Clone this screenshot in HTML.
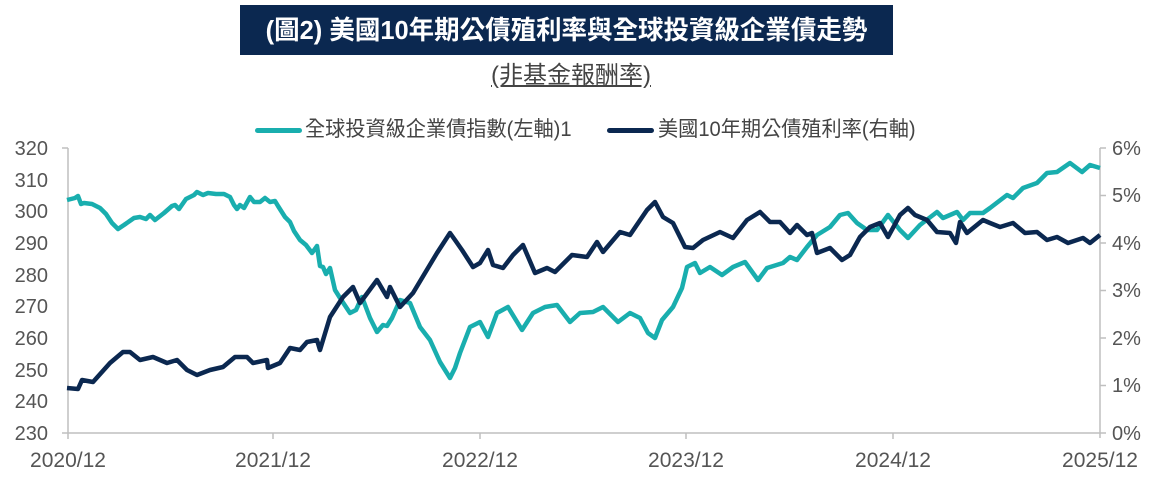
<!DOCTYPE html>
<html><head><meta charset="utf-8"><style>
html,body{margin:0;padding:0;background:#fff;}
body{width:1161px;height:477px;position:relative;overflow:hidden;font-family:"Liberation Sans","Noto Sans CJK TC",sans-serif;}
.title{position:absolute;left:240px;top:5px;width:653px;height:50px;background:#0b2850;color:#fff;}
.title span{position:absolute;left:0;width:653px;top:8px;text-align:center;font-size:26px;font-weight:bold;line-height:34px;transform:scaleX(0.98);}
.sub{position:absolute;left:0;width:1142px;top:61px;text-align:center;}
.sub span{display:inline-block;font-size:24px;color:#444;text-decoration:underline;line-height:30px;}
.leg{position:absolute;top:117px;font-size:21px;color:#444;line-height:26px;white-space:nowrap;transform-origin:left center;transform:scaleX(0.96);}
.ln{position:absolute;top:128px;height:5px;border-radius:3px;}
</style></head><body>
<div class="title"><span>(圖2) 美國10年期公債殖利率與全球投資級企業債走勢</span></div>
<div class="sub"><span>(非基金報酬率)</span></div>
<div class="ln" style="left:255px;width:47px;background:#19aeae"></div>
<div class="leg" style="left:305px">全球投資級企業債指數(左軸)1</div>
<div class="ln" style="left:607px;width:47px;background:#0b2850"></div>
<div class="leg" style="left:658px">美國10年期公債殖利率(右軸)</div>
<svg width="1161" height="477" style="position:absolute;left:0;top:0" font-family="Liberation Sans, sans-serif">
<g stroke="#bfbfbf" stroke-width="1.5" fill="none">
<line x1="68" y1="148" x2="68" y2="433"/>
<line x1="68" y1="433" x2="1100" y2="433"/>
<line x1="1100" y1="148" x2="1100" y2="438"/>
<line x1="273" y1="433" x2="273" y2="439"/><line x1="480" y1="433" x2="480" y2="439"/><line x1="686" y1="433" x2="686" y2="439"/><line x1="893" y1="433" x2="893" y2="439"/><line x1="68" y1="433" x2="68" y2="439"/>
<line x1="62" y1="148" x2="68" y2="148"/><line x1="62" y1="433" x2="68" y2="433"/>
<line x1="1100" y1="148" x2="1106" y2="148"/><line x1="1100" y1="195.5" x2="1106" y2="195.5"/><line x1="1100" y1="243" x2="1106" y2="243"/><line x1="1100" y1="290.5" x2="1106" y2="290.5"/><line x1="1100" y1="338" x2="1106" y2="338"/><line x1="1100" y1="385.5" x2="1106" y2="385.5"/><line x1="1100" y1="433" x2="1106" y2="433"/>
</g>
<g fill="#555" font-size="20" text-anchor="end">
<text x="48" y="155">320</text><text x="48" y="187">310</text><text x="48" y="218">300</text><text x="48" y="250">290</text><text x="48" y="282">280</text><text x="48" y="313">270</text><text x="48" y="345">260</text><text x="48" y="377">250</text><text x="48" y="408">240</text><text x="48" y="440">230</text>
</g>
<g fill="#555" font-size="20" text-anchor="start">
<text x="1112" y="155">6%</text><text x="1112" y="202">5%</text><text x="1112" y="250">4%</text><text x="1112" y="297">3%</text><text x="1112" y="345">2%</text><text x="1112" y="392">1%</text><text x="1112" y="440">0%</text>
</g>
<g fill="#555" font-size="21" text-anchor="middle">
<text x="68" y="467">2020/12</text><text x="273" y="467">2021/12</text><text x="480" y="467">2022/12</text><text x="686" y="467">2023/12</text><text x="893" y="467">2024/12</text><text x="1100" y="467">2025/12</text>
</g>
<polyline fill="none" stroke="#19aeae" stroke-width="4.5" stroke-linejoin="round" points="67,200 75,198 78,196 81,204 84,203 92,204 100,208 106,214 112,223 118,229 124,225 134,218 140,217 146,219 150,215 155,220 164,213 172,206 175,205 179,209 186,199 194,195 197,192 203,195 208,193 216,194 224,194 230,197 234,205 237,209 240,205 244,208 250,197 254,202 260,202 265,198 270,202 275,201 278,206 285,217 290,222 294,231 300,240 306,245 312,253 317,246 320,266 323,267 326,274 330,268 335,290 340,298 350,313 356,310 362,297 370,318 377,332 383,325 387,326 392,318 400,300 410,303 420,327 430,340 440,362 450,378 455,368 460,353 470,327 480,322 488,337 497,313 508,307 522,330 533,313 545,307 557,305 570,322 580,313 593,312 603,307 618,322 630,313 640,318 648,333 655,338 662,320 673,307 682,288 687,267 695,263 700,273 710,267 722,275 733,267 745,262 758,280 767,268 783,263 790,257 797,260 807,247 817,235 830,227 840,215 848,213 857,223 867,230 877,230 888,215 900,230 908,238 920,225 937,212 943,218 957,212 963,220 970,213 983,213 990,208 1007,195 1013,198 1023,188 1037,183 1047,173 1057,172 1070,163 1082,172 1090,165 1100,168"/>
<polyline fill="none" stroke="#0b2850" stroke-width="4.5" stroke-linejoin="round" points="67,388 78,389 82,380 93,382 110,363 123,352 130,352 140,360 153,357 167,363 177,360 187,370 197,375 210,370 223,367 235,357 247,357 253,363 267,360 268,368 280,363 290,348 300,350 307,342 317,340 320,350 330,317 343,297 353,287 360,303 377,280 387,297 390,287 400,307 413,293 437,253 450,233 455,240 462,250 473,267 480,263 488,250 493,265 503,268 513,255 523,245 535,273 547,268 555,272 572,255 587,257 597,242 603,252 620,232 630,235 647,210 655,202 663,217 673,223 685,247 693,248 703,240 720,232 733,238 747,220 760,212 770,222 780,222 790,233 797,225 807,235 812,233 817,253 830,248 842,260 850,255 860,237 870,227 880,223 888,237 900,215 908,208 915,215 927,220 937,232 950,233 956,243 960,222 967,233 983,220 990,223 1000,227 1013,223 1025,233 1037,232 1047,240 1057,237 1068,243 1083,238 1090,243 1100,235"/>
</svg>
</body></html>
